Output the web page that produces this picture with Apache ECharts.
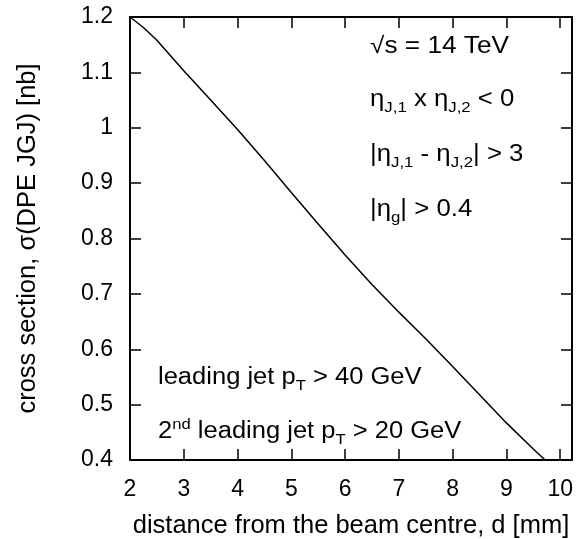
<!DOCTYPE html>
<html>
<head>
<meta charset="utf-8">
<script src="https://cdn.jsdelivr.net/npm/echarts@6/dist/echarts.min.js"></script>
<style>html,body{margin:0;padding:0;background:#fff}#c{width:578px;height:539px}</style>
</head>
<body>
<div id="c"></div>
<script>
const distance = [2, 2.25, 2.5, 3, 3.5, 4, 4.5, 5, 5.5, 6, 6.5, 7, 7.5, 8, 8.5, 9, 9.5, 9.72];
const crossSection = [1.2, 1.181, 1.158, 1.103, 1.05, 0.997, 0.941, 0.883, 0.826, 0.77, 0.717, 0.667, 0.619, 0.569, 0.518, 0.467, 0.42, 0.40];
const xTicks = [2, 3, 4, 5, 6, 7, 8, 9, 10];
const yTicks = [0.4, 0.5, 0.6, 0.7, 0.8, 0.9, 1, 1.1, 1.2];

const FONT = 'Liberation Sans';
const FS = 23;
const NAME_FS = 25.5;
const chart = echarts.init(document.getElementById('c'), null, {renderer: 'canvas'});
const axisCommon = {
  axisLine: {show: true, lineStyle: {color: '#000', width: 2}},
  axisTick: {show: true, inside: true, length: 11, lineStyle: {color: '#000', width: 1.5}},
  splitLine: {show: false}
};
const rich = {
  m: {fontFamily: FONT, fontSize: FS, lineHeight: 30, color: '#000'},
  sub: {fontFamily: FONT, fontSize: 15, lineHeight: 15, verticalAlign: 'bottom', color: '#000'},
  sup: {fontFamily: FONT, fontSize: 15, lineHeight: 15, verticalAlign: 'top', color: '#000'}
};
function txt(x, y, s, sx) {
  return {type: 'text', x: x, y: y, scaleX: sx, originX: 0, originY: 0,
    style: {text: s, rich: rich, fontFamily: FONT, fontSize: FS, fill: '#000', verticalAlign: 'middle'}};
}
chart.setOption({
  animation: false,
  grid: {left: 130, top: 17, right: 6, bottom: 79, containLabel: false, outerBoundsMode: 'none'},
  xAxis: [
    Object.assign({}, axisCommon, {
      type: 'value', min: 2, max: 10.22, interval: 1, position: 'bottom',
      name: 'distance from the beam centre, d [mm]', nameLocation: 'middle', nameGap: 53,
      nameTextStyle: {fontFamily: FONT, fontSize: NAME_FS, color: '#000'},
      axisLabel: {fontFamily: FONT, fontSize: FS, color: '#000', margin: 18,
        formatter: v => (xTicks.indexOf(Math.round(v * 100) / 100) >= 0 ? String(Math.round(v)) : '')}
    }),
    Object.assign({}, axisCommon, {
      type: 'value', min: 2, max: 10.22, interval: 1, position: 'top',
      axisLabel: {show: false}
    })
  ],
  yAxis: [
    Object.assign({}, axisCommon, {
      type: 'value', min: 0.4, max: 1.2, interval: 0.1, position: 'left',
      name: 'cross section, \u03c3(DPE JGJ) [nb]', nameLocation: 'middle', nameGap: 89,
      nameTextStyle: {fontFamily: FONT, fontSize: NAME_FS, color: '#000'},
      axisLabel: {fontFamily: FONT, fontSize: FS, color: '#000', margin: 17,
        formatter: v => String(Math.round(v * 10) / 10)}
    }),
    Object.assign({}, axisCommon, {
      type: 'value', min: 0.4, max: 1.2, interval: 0.1, position: 'right',
      axisLabel: {show: false}
    })
  ],
  series: [{
    type: 'line', xAxisIndex: 0, yAxisIndex: 0,
    data: distance.map((d, i) => [d, crossSection[i]]),
    showSymbol: false, smooth: false,
    lineStyle: {color: '#000', width: 1.5}
  }],
  graphic: [
    txt(370, 47, '{m|\u221as = 14 TeV}', 1.14),
    txt(370, 100, '{m|\u03b7}{sub|J,1}{m| x \u03b7}{sub|J,2}{m| < 0}', 1.12),
    txt(370, 155, '{m||\u03b7}{sub|J,1}{m| - \u03b7}{sub|J,2}{m|| > 3}', 1.12),
    txt(370, 210, '{m||\u03b7}{sub|g}{m|| > 0.4}', 1.12),
    txt(158, 378, '{m|leading jet p}{sub|T}{m| > 40 GeV}', 1.11),
    txt(158, 432, '{m|2}{sup|nd}{m| leading jet p}{sub|T}{m| > 20 GeV}', 1.11)
  ]
});
</script>
</body>
</html>
